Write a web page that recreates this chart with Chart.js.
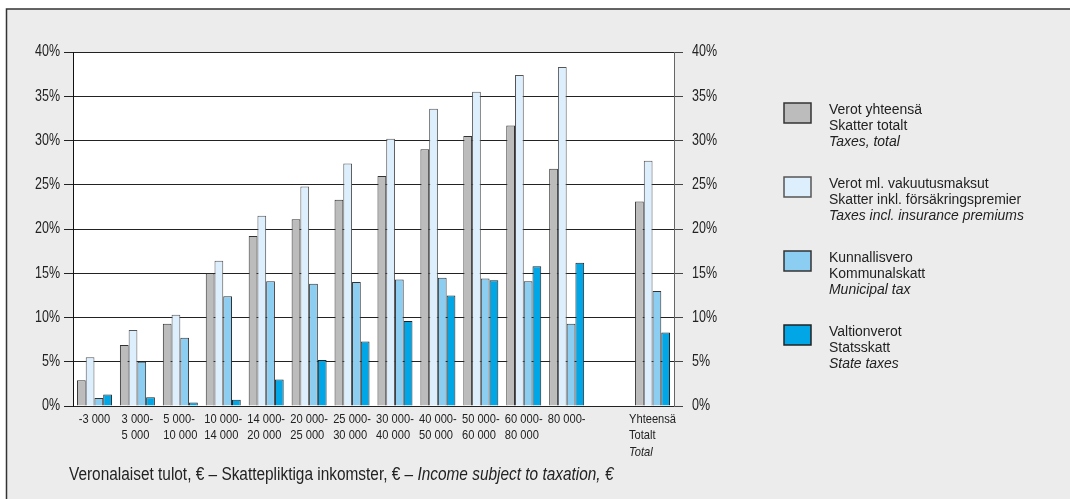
<!DOCTYPE html>
<html>
<head>
<meta charset="utf-8">
<script src="https://cdn.jsdelivr.net/npm/chart.js@4.4.1/dist/chart.umd.min.js"></script>
<style>
  html, body { margin: 0; padding: 0; background: #fff; }
  #chart { display: block; }
</style>
</head>
<body>
<canvas id="chart" width="1070" height="499"></canvas>
<script>
// income brackets (last empty slot is the gap before the total group)
const incomeLines = [
  ["-3 000"], ["3 000-", "5 000"], ["5 000-", "10 000"], ["10 000-", "14 000"],
  ["14 000-", "20 000"], ["20 000-", "25 000"], ["25 000-", "30 000"], ["30 000-", "40 000"],
  ["40 000-", "50 000"], ["50 000-", "60 000"], ["60 000-", "80 000"], ["80 000-"],
  [""], ["Yhteensä", "Totalt"]
];
const incomeItalic = ["", "", "", "", "", "", "", "", "", "", "", "", "", "Total"];

const taxesTotal = [2.9, 6.9, 9.3, 15.0, 19.2, 21.1, 23.3, 26.0, 29.0, 30.5, 31.7, 26.8, null, 23.1];
const taxesInclIns = [5.5, 8.6, 10.3, 16.4, 21.5, 24.8, 27.4, 30.2, 33.6, 35.5, 37.4, 38.3, null, 27.7];
const municipalTax = [0.9, 5.0, 7.7, 12.4, 14.1, 13.8, 14.0, 14.3, 14.5, 14.4, 14.1, 9.3, null, 13.0];
const stateTax = [1.3, 1.0, 0.4, 0.7, 3.0, 5.2, 7.3, 9.6, 12.5, 14.2, 15.8, 16.2, null, 8.3];

const namesFi = ["Verot yhteensä", "Verot ml. vakuutusmaksut", "Kunnallisvero", "Valtionverot"];
const namesSv = ["Skatter totalt", "Skatter inkl. försäkringspremier", "Kommunalskatt", "Statsskatt"];
const namesEn = ["Taxes, total", "Taxes incl. insurance premiums", "Municipal tax", "State taxes"];

const yTicks = [0, 5, 10, 15, 20, 25, 30, 35, 40];
const titleNormal = "Veronalaiset tulot, € – Skattepliktiga inkomster, € – ";
const titleItalic = "Income subject to taxation, €";

const fill = ["#bcbcbc", "#ddeefc", "#8ccdf2", "#00a6e6"];
const edge = ["#333", "#555", "#333", "#222"];
const FONT = '"Liberation Sans", Arial, sans-serif';
const txt = "#222";

// text styles: size, horizontal squeeze (fakes a condensed face)
const T_Y = { size: 16, sq: 0.78 };
const T_X = { size: 12.8, sq: 0.87 };
const T_LEG = { size: 15.5, sq: 0.9 };
const T_TITLE = { size: 17.5, sq: 0.88 };

function wid(c, s, st, italic) {
  c.font = (italic ? "italic " : "") + st.size + "px " + FONT;
  return c.measureText(s).width * st.sq;
}
// draw condensed text, returns its width
function say(c, s, x, y, st, italic, align) {
  const w = wid(c, s, st, italic);
  let x0 = x;
  if (align === "right") x0 = x - w;
  if (align === "center") x0 = x - w / 2;
  c.save();
  c.translate(x0, y);
  c.scale(st.sq, 1);
  c.textAlign = "left";
  c.textBaseline = "middle";
  c.fillText(s, 0, 0);
  c.restore();
  return w;
}

const extras = {
  id: "extras",
  beforeDraw(chart) {
    const c = chart.ctx, a = chart.chartArea;
    c.save();
    c.fillStyle = "#fff";
    c.fillRect(0, 0, chart.width, chart.height);
    c.fillStyle = "#ececec";
    c.fillRect(6, 9, chart.width, chart.height);
    c.strokeStyle = "#333";
    c.lineWidth = 1.5;
    c.beginPath();
    c.moveTo(6.5, chart.height);
    c.lineTo(6.5, 9);
    c.lineTo(chart.width, 9);
    c.stroke();
    c.fillStyle = "#fff";
    c.fillRect(a.left, a.top, a.right - a.left, a.bottom - a.top);
    c.restore();
  },
  afterDraw(chart) {
    const c = chart.ctx, x = chart.scales.x, y = chart.scales.y;
    c.save();
    c.fillStyle = txt;
    // y tick labels on both sides
    yTicks.forEach(v => {
      const py = y.getPixelForValue(v);
      say(c, v + "%", 60, py, T_Y, false, "right");
      say(c, v + "%", 692, py, T_Y, false, "left");
    });
    // x labels, lines left aligned inside a centered block
    incomeLines.forEach((lines, i) => {
      const ws = lines.map(s => wid(c, s, T_X, false));
      if (incomeItalic[i]) ws.push(wid(c, incomeItalic[i], T_X, true));
      const left = x.getPixelForValue(i) - Math.max(...ws) / 2;
      lines.forEach((s, k) => say(c, s, left, 419 + k * 16.5, T_X, false));
      if (incomeItalic[i]) say(c, incomeItalic[i], left, 419 + lines.length * 16.5, T_X, true);
    });
    // axis title
    const tw = say(c, titleNormal, 69, 475, T_TITLE, false);
    say(c, titleItalic, 69 + tw, 475, T_TITLE, true);
    // legend
    namesFi.forEach((n, i) => {
      const top = 103 + i * 74;
      c.fillStyle = fill[i];
      c.fillRect(784, top, 27, 20);
      c.strokeStyle = edge[i];
      c.lineWidth = 1.5;
      c.strokeRect(784, top, 27, 20);
      c.fillStyle = txt;
      say(c, n, 829, top + 7, T_LEG, false);
      say(c, namesSv[i], 829, top + 23, T_LEG, false);
      say(c, namesEn[i], 829, top + 39, T_LEG, true);
    });
    c.restore();
  }
};

const series = [taxesTotal, taxesInclIns, municipalTax, stateTax];

new Chart(document.getElementById("chart"), {
  type: "bar",
  data: {
    labels: incomeLines.map(l => l.join(" ")),
    datasets: series.map((d, i) => ({
      label: namesFi[i],
      data: d,
      backgroundColor: fill[i],
      borderColor: edge[i],
      borderWidth: 1,
      categoryPercentage: 0.815,
      barPercentage: 1.0
    }))
  },
  options: {
    responsive: false,
    animation: false,
    devicePixelRatio: 1,
    layout: { padding: { top: 52, left: 0, right: 0, bottom: 0 } },
    plugins: { legend: { display: false }, tooltip: { enabled: false } },
    scales: {
      x: {
        ticks: { display: false },
        grid: { display: false },
        border: { display: false },
        afterFit: s => { s.height = 93; }
      },
      y: {
        position: "left",
        min: 0, max: 40,
        afterBuildTicks: s => { s.ticks = yTicks.map(v => ({ value: v })); },
        ticks: { display: false },
        grid: { color: "#222", tickColor: "#222", tickLength: 9, lineWidth: 1 },
        border: { color: "#111", width: 1 },
        afterFit: s => { s.width = 73; }
      },
      y2: {
        position: "right",
        min: 0, max: 40,
        afterBuildTicks: s => { s.ticks = yTicks.map(v => ({ value: v })); },
        ticks: { display: false },
        grid: { drawOnChartArea: false, color: "#444", tickLength: 9 },
        border: { color: "#666", width: 1 },
        afterFit: s => { s.width = 1070 - 674; }
      }
    }
  },
  plugins: [extras]
});
</script>
</body>
</html>
